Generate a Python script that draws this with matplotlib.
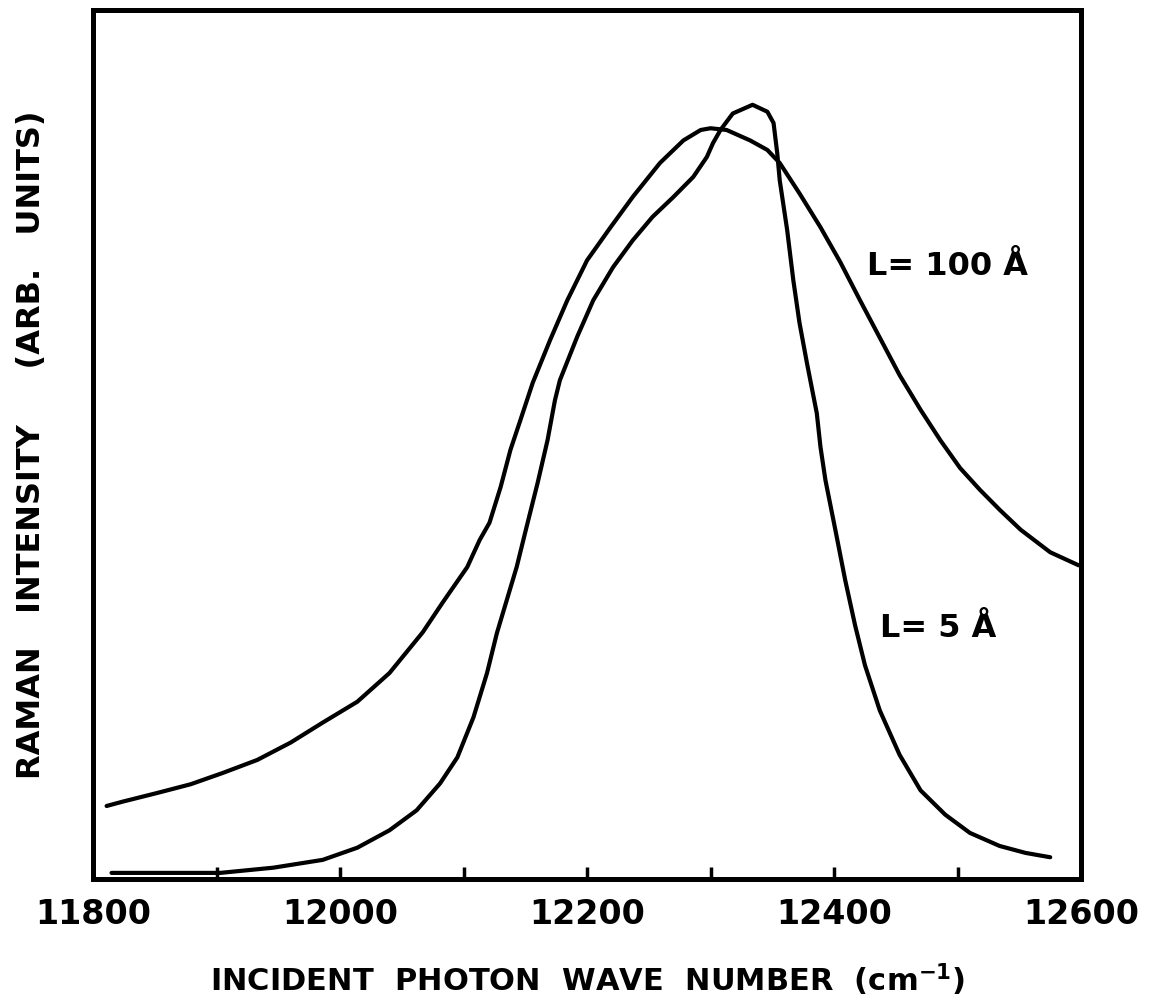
import matplotlib.pyplot as plt

wn_100 = [11811, 11824, 11852, 11879, 11905, 11933, 11960, 11986, 12014, 12040,
          12067, 12083, 12103, 12113, 12121, 12130, 12138, 12146, 12156, 12170,
          12184, 12200, 12219, 12237, 12259, 12278, 12292, 12300, 12313, 12332,
          12346, 12356, 12372, 12389, 12405, 12421, 12437, 12453, 12470, 12486,
          12502, 12518, 12534, 12551, 12575, 12598]
int_100 = [0.084, 0.089, 0.099, 0.109, 0.122, 0.137, 0.157, 0.180, 0.204, 0.237,
           0.284, 0.318, 0.359, 0.390, 0.410, 0.451, 0.494, 0.528, 0.571, 0.620,
           0.666, 0.712, 0.750, 0.785, 0.824, 0.850, 0.862, 0.864, 0.862, 0.850,
           0.839, 0.824, 0.789, 0.750, 0.710, 0.666, 0.623, 0.580, 0.540, 0.505,
           0.473, 0.448, 0.425, 0.402, 0.376, 0.361]

wn_5 = [11815, 11903, 11946, 11986, 12014, 12040, 12062, 12081, 12095, 12108,
        12119, 12127, 12135, 12143, 12151, 12160, 12168, 12174, 12178, 12192,
        12205, 12221, 12237, 12253, 12270, 12286, 12297, 12302, 12308, 12318,
        12334, 12346, 12351, 12354, 12356, 12362, 12367, 12372, 12378, 12386,
        12389, 12393, 12401, 12409, 12417, 12425, 12437, 12453, 12470, 12490,
        12510, 12534, 12555, 12575]
int_5 = [0.007, 0.007, 0.013, 0.022, 0.036, 0.056, 0.079, 0.110, 0.140, 0.186,
         0.237, 0.283, 0.321, 0.359, 0.405, 0.456, 0.505, 0.551, 0.574, 0.624,
         0.666, 0.704, 0.735, 0.762, 0.785, 0.808, 0.831, 0.847, 0.862, 0.881,
         0.891, 0.883, 0.870, 0.835, 0.804, 0.747, 0.689, 0.640, 0.594, 0.536,
         0.497, 0.459, 0.402, 0.344, 0.292, 0.246, 0.194, 0.143, 0.102, 0.074,
         0.053, 0.038, 0.030, 0.025]

major_ticks = [11800, 12000, 12200, 12400, 12600]
tick_labels = ['11800', '12000', '12200', '12400', '12600']
minor_ticks = [11900, 12100, 12300, 12500]

fig = plt.figure(figsize=(11.57, 10.08), dpi=100)
ax = fig.add_axes([0.0804, 0.128, 0.854, 0.862])

for xs, ys in [(wn_100, int_100), (wn_5, int_5)]:
    ax.plot(xs, ys, color='black', lw=3, solid_joinstyle='round',
            solid_capstyle='round')

ax.set_xlim(11800, 12600)
ax.set_ylim(0, 1)

for s in ax.spines.values():
    s.set_linewidth(3.6)

ax.set_xticks(major_ticks)
ax.set_xticklabels(tick_labels, fontsize=24, fontweight='bold')
ax.set_xticks(minor_ticks, minor=True)
ax.tick_params(axis='x', which='major', direction='in', length=9, width=2.5,
               pad=14)
ax.tick_params(axis='x', which='minor', direction='in', length=9, width=2.5)
ax.set_yticks([])

ax.set_xlabel('INCIDENT  PHOTON  WAVE  NUMBER  (cm$^{\\mathbf{-1}}$)',
              fontsize=22, fontweight='bold', labelpad=22)
ax.set_ylabel('RAMAN   INTENSITY     (ARB.   UNITS)', fontsize=23,
              fontweight='bold')
ax.yaxis.set_label_coords(-0.047, 0.5)

ax.text(12427, 0.705, 'L= 100 Å', fontsize=23, fontweight='bold', ha='left', va='center')
ax.text(12437, 0.288, 'L= 5 Å', fontsize=23, fontweight='bold', ha='left', va='center')

fig.savefig('out.png', dpi=100)
